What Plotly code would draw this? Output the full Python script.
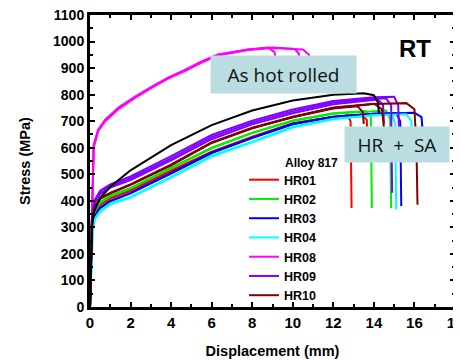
import plotly.graph_objects as go

# ---------------- data (displacement mm, stress MPa) ----------------
# each series has several specimens; each specimen is its own list
HR01_x = [[0, 0.04, 0.1, 0.25, 0.5, 1, 2, 4, 6, 8, 10, 12, 12.7, 12.85, 12.9],
          [0, 0.04, 0.1, 0.25, 0.5, 1, 2, 4, 6, 8, 10, 12, 13.4, 13.65, 13.7]]
HR01_y = [[0, 180, 320, 360, 390, 412, 441, 515, 585, 642, 692, 717, 722, 700, 373],
          [0, 170, 315, 355, 385, 408, 438, 512, 582, 640, 690, 716, 725, 705, 600]]

HR02_x = [[0, 0.05, 0.12, 0.25, 0.5, 1, 2, 4, 6, 8, 10, 12, 13.6, 13.85, 13.9],
          [0, 0.05, 0.12, 0.25, 0.5, 1, 2, 4, 6, 8, 10, 12, 14, 14.6, 14.8, 14.85]]
HR02_y = [[0, 190, 330, 365, 395, 420, 449, 525, 600, 657, 703, 730, 738, 715, 373],
          [0, 185, 325, 362, 392, 417, 446, 522, 598, 655, 701, 728, 738, 740, 710, 372]]

HR03_x = [[0, 0.05, 0.12, 0.25, 0.5, 1, 2, 4, 6, 8, 10, 12, 14, 15.1, 15.3, 15.35],
          [0, 0.05, 0.12, 0.25, 0.5, 1, 2, 4, 6, 8, 10, 12, 14, 16, 16.35, 16.45]]
HR03_y = [[0, 170, 310, 345, 375, 400, 430, 505, 582, 638, 690, 717, 728, 730, 700, 380],
          [0, 165, 305, 342, 372, 398, 428, 503, 580, 636, 688, 716, 728, 732, 715, 620]]

HR04_x = [[0, 0.06, 0.14, 0.25, 0.5, 1, 2, 4, 6, 8, 10, 12, 14, 14.9, 15.05, 15.1],
          [0, 0.06, 0.14, 0.25, 0.5, 1, 2, 4, 6, 8, 10, 12, 14, 15.6, 15.85, 15.9]]
HR04_y = [[0, 150, 300, 335, 362, 390, 415, 490, 570, 623, 679, 709, 722, 724, 690, 368],
          [0, 145, 296, 332, 358, 386, 412, 487, 567, 620, 676, 707, 722, 726, 700, 600]]

HR08_x = [[0, 0.06, 0.12, 0.18, 0.4, 0.75, 1.4, 2.2, 3.05, 3.85, 4.7, 5.5, 6.3, 7.8, 8.8, 9.1, 9.25],
          [0, 0.06, 0.12, 0.18, 0.4, 0.75, 1.4, 2.2, 3.05, 3.85, 4.7, 5.5, 6.3, 7.8, 9, 10.1, 10.3, 10.35],
          [0, 0.06, 0.12, 0.18, 0.4, 0.75, 1.4, 2.2, 3.05, 3.85, 4.7, 5.5, 6.3, 7.8, 9, 10.5, 10.8, 10.85]]
HR08_y = [[0, 250, 500, 610, 668, 706, 751, 792, 830, 864, 894, 925, 951, 970, 977, 960, 900],
          [0, 240, 490, 605, 665, 703, 748, 789, 828, 862, 892, 923, 949, 970, 978, 972, 955, 880],
          [0, 235, 485, 600, 662, 700, 745, 787, 826, 860, 890, 921, 947, 968, 976, 970, 950, 880]]

HR09_x = [[0, 0.05, 0.1, 0.25, 0.5, 1, 2, 4, 6, 8, 10, 12, 14, 14.6, 14.85, 14.9],
          [0, 0.05, 0.1, 0.25, 0.5, 1, 2, 4, 6, 8, 10, 12, 14, 15.0, 15.2, 15.25],
          [0, 0.05, 0.1, 0.25, 0.5, 1, 2, 4, 6, 8, 10, 12, 14, 14.2, 14.45, 14.5]]
HR09_y = [[0, 200, 350, 400, 430, 455, 485, 560, 640, 695, 737, 770, 785, 786, 760, 430],
          [0, 200, 355, 405, 438, 462, 492, 568, 648, 702, 744, 776, 790, 792, 760, 640],
          [0, 190, 345, 395, 425, 450, 478, 552, 632, 688, 730, 764, 780, 782, 760, 690]]

HR10_x = [[0, 0.05, 0.1, 0.25, 0.5, 1, 2, 4, 6, 8, 10, 12, 14, 15.6, 16, 16.1, 16.15],
          [0, 0.05, 0.1, 0.25, 0.5, 1, 2, 4, 6, 8, 10, 12, 13.2, 13.45, 13.5],
          [0, 0.05, 0.1, 0.25, 0.5, 1, 2, 4, 6, 8, 10, 12, 14, 14.4, 14.5]]
HR10_y = [[0, 180, 330, 380, 410, 430, 462, 536, 620, 675, 717, 750, 765, 768, 745, 600, 385],
          [0, 175, 325, 377, 407, 428, 460, 534, 618, 673, 715, 748, 756, 735, 690],
          [0, 178, 328, 379, 409, 429, 461, 535, 619, 674, 716, 752, 766, 745, 670]]

REF_x = [[0, 0.05, 0.1, 0.2, 0.5, 1, 2, 4, 6, 8, 10, 12, 13.5, 14, 14.2, 14.25]]
REF_y = [[0, 180, 300, 358, 410, 453, 515, 610, 685, 740, 778, 800, 805, 798, 770, 730]]

series_names = ["HR01", "HR02", "HR03", "HR04", "HR08", "HR09", "HR10"]
series_x = [HR01_x, HR02_x, HR03_x, HR04_x, HR08_x, HR09_x, HR10_x]
series_y = [HR01_y, HR02_y, HR03_y, HR04_y, HR08_y, HR09_y, HR10_y]
series_colors = ["#ff0000", "#00ee00", "#0000ff", "#00ffff", "#ff00ff", "#8000ff", "#800000"]

x_ticks = [0, 2, 4, 6, 8, 10, 12, 14, 16, 18]
y_ticks = [0, 100, 200, 300, 400, 500, 600, 700, 800, 900, 1000, 1100]


def join(specs):
    out = []
    for i, s in enumerate(specs):
        if i:
            out.append(None)
        out.extend(s)
    return out


fig = go.Figure()
for name, xs, ys, col in zip(series_names, series_x, series_y, series_colors):
    fig.add_trace(go.Scatter(x=join(xs), y=join(ys), mode="lines", name=name,
                             line=dict(color=col, width=2), connectgaps=False))
fig.add_trace(go.Scatter(x=join(REF_x), y=join(REF_y), mode="lines", showlegend=False,
                         line=dict(color="#000000", width=2)))

bold = dict(family="Liberation Sans, Arial, sans-serif", color="black", weight="bold")

axis_common = dict(showline=True, linewidth=3, linecolor="black", mirror="allticks",
                   ticks="inside", ticklen=5, tickwidth=2, tickcolor="black",
                   showgrid=False, zeroline=False, automargin=False,
                   ticklabeloverflow="allow")

fig.update_xaxes(range=[0, 18], tickvals=x_ticks, tickfont=dict(size=15, **bold),
                 minor=dict(ticks="inside", ticklen=3, tickwidth=2, dtick=1, tickcolor="black"),
                 title=dict(text="Displacement (mm)", font=dict(size=14.5, **bold), standoff=16),
                 **axis_common)
fig.update_yaxes(range=[0, 1100], tickvals=y_ticks, tickfont=dict(size=14, **bold),
                 minor=dict(ticks="inside", ticklen=3, tickwidth=2, dtick=50, tickcolor="black"),
                 title=dict(text="Stress (MPa)", font=dict(size=14.5, **bold), standoff=19),
                 **axis_common)

box_col = "#b9dde1"
fig.add_annotation(x=9.52, y=874, xref="x", yref="y", text="As hot rolled", showarrow=False,
                   bgcolor=box_col, width=145, height=37, borderpad=0,
                   font=dict(family="Open Sans, sans-serif", size=19, color="#111111"))
fig.add_annotation(x=15.15, y=613, xref="x", yref="y", text="HR\u00a0\u00a0+\u00a0\u00a0SA",
                   showarrow=False, bgcolor=box_col, width=104, height=35, borderpad=0,
                   font=dict(family="Open Sans, sans-serif", size=19, color="#111111"))
fig.add_annotation(x=16.03, y=974, xref="x", yref="y", text="RT", showarrow=False,
                   font=dict(size=24, **bold))
fig.add_annotation(x=0.529, y=0.492, xref="paper", yref="paper", text="Alloy 817",
                   xanchor="left", yanchor="middle", showarrow=False,
                   font=dict(size=12, **bold))

fig.update_layout(
    width=461, height=360,
    margin=dict(l=82, r=14, t=7, b=61),
    paper_bgcolor="white", plot_bgcolor="white",
    legend=dict(x=0.422, y=0.486, xanchor="left", yanchor="top",
                bgcolor="rgba(0,0,0,0)", borderwidth=0,
                font=dict(size=12.5, **bold), tracegroupgap=0),
)

fig.write_html("out.html")
